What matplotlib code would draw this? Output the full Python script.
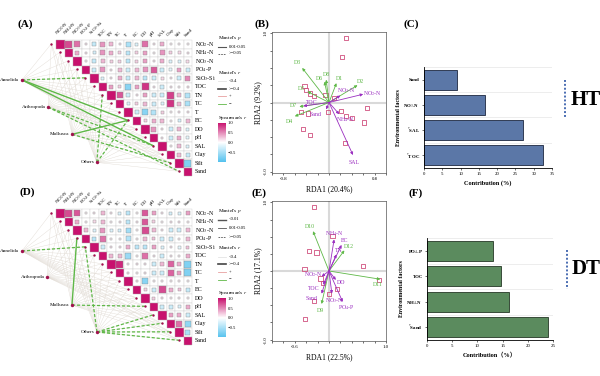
import numpy as np
import matplotlib
matplotlib.use('Agg')
import matplotlib.pyplot as plt
from matplotlib.colors import LinearSegmentedColormap, Normalize
from matplotlib.patches import Rectangle
from matplotlib.cm import ScalarMappable

plt.rcParams['font.family'] = ['Liberation Serif', 'DejaVu Serif']
plt.rcParams['mathtext.fontset'] = 'stix'

W, H = 600, 376

#### data ####
env_vars = ['NO$_2$-N', 'NH$_4$-N', 'NO$_3$-N', 'PO$_4$-P', 'SiO$_3$-Si', 'TOC', 'TN', 'TC',
            'T', 'EC', 'DO', 'pH', 'SAL', 'Clay', 'Silt', 'Sand']
taxa = ['Annelida', 'Arthropoda', 'Mollusca', 'Others']

# Spearman's r, upper triangle, row i holds columns i+1..15
ht_corr = [
    [0.75, 0.6, 0.1, -0.35, 0.45, 0.3, 0.1, -0.5, -0.2, 0.6, 0.1, 0.35, 0.05, 0.05, 0.05],
    [0.35, 0.1, -0.25, 0.45, 0.35, 0.2, -0.4, 0.2, 0.4, 0.05, 0.45, 0.2, 0.15, 0.1],
    [0.05, -0.35, 0.3, 0.2, 0.2, -0.4, 0.2, 0.4, 0.1, 0.35, -0.2, -0.2, 0.15],
    [-0.3, 0.45, 0.1, 0.3, -0.3, 0.3, 0.45, 0.7, -0.3, -0.15, 0.4, -0.3],
    [-0.2, 0.1, 0.35, -0.35, 0.3, -0.4, -0.3, 0.15, 0.1, -0.3, 0.5],
    [0.4, 0.2, -0.7, 0.4, 0.85, 0.1, -0.3, 0.1, 0.05, 0.1],
    [0.7, -0.3, 0.1, 0.4, -0.3, -0.3, 0.8, 0.3, -0.45],
    [-0.2, 0.2, 0.3, -0.3, -0.2, 0.85, 0.3, -0.5],
    [-0.3, -0.7, -0.45, 0.2, 0.05, 0.1, 0.1],
    [0.2, 0.35, 0.3, 0.05, -0.25, 0.3],
    [0.45, 0.1, -0.3, 0.3, -0.2],
    [0.1, -0.3, 0.35, -0.15],
    [0.05, 0.3, -0.2],
    [0.3, -0.35],
    [-0.75],
]
dt_corr = [
    [0.75, 0.7, 0.05, 0.1, 0.3, 0.1, -0.2, -0.4, 0.05, 0.7, 0.4, 0.1, -0.25, -0.2, 0.4],
    [0.35, 0.05, 0.15, 0.3, 0.05, 0.1, -0.4, 0.1, 0.7, 0.2, 0.05, 0.1, 0.1, 0.05],
    [0.3, -0.2, 0.45, -0.2, -0.25, -0.55, 0.05, 0.75, 0.3, 0.1, -0.3, -0.3, 0.3],
    [-0.4, 0.6, 0.05, 0.05, -0.45, 0.05, 0.3, 0.25, -0.3, -0.3, 0.05, 0.3],
    [-0.3, 0.1, 0.1, 0.35, -0.4, -0.4, 0.4, -0.2, 0.1, -0.15, 0.25],
    [0.3, 0.3, -0.6, 0.05, 0.6, 0.1, -0.3, 0.1, 0.05, 0.35],
    [0.9, 0.1, 0.1, 0.1, -0.3, 0.3, 0.65, 0.35, -0.75],
    [0.1, 0.05, 0.1, -0.3, -0.3, 0.65, 0.4, -0.75],
    [0.1, -0.7, 0.05, 0.05, 0.05, 0.05, 0.05],
    [0.2, -0.3, 0.75, 0.35, 0.25, -0.35],
    [0.2, 0.1, 0.05, 0.05, 0.05],
    [-0.3, -0.3, -0.2, 0.35],
    [0.4, 0.35, -0.3],
    [0.6, -0.65],
    [-0.5],
]

# Mantel links drawn in green: (taxon index, env index, p<0.05 -> solid)
ht_links = [(0, 4, False), (0, 9, True), (0, 12, True), (1, 12, False), (1, 15, False),
            (2, 9, True), (2, 14, False), (3, 9, False), (3, 6, False)]
dt_links = [(0, 4, False), (2, 3, True), (2, 11, False), (3, 4, False), (3, 12, False),
            (3, 13, False), (3, 14, False), (3, 15, False)]

# RDA (B) HT
ht_site_x = [0.30, 0.23, -0.43, -0.41, -0.33, -0.26, -0.06, 0.09, -0.49, -0.37, -0.02, 0.21,
             0.30, -0.46, -0.33, 0.28, 0.41, 0.66, 0.62]
ht_site_y = [0.93, 0.66, 0.24, 0.18, 0.13, 0.09, 0.11, 0.07, -0.14, -0.16, -0.14, -0.12,
             -0.19, -0.38, -0.47, -0.59, -0.23, -0.08, -0.29]
ht_sp_names = ['D3', 'D6', 'D8', 'D1', 'D2', 'D5', 'D7', 'D4']
ht_sp_x = [-0.47, -0.08, -0.05, 0.13, 0.50, -0.38, -0.52, -0.60]
ht_sp_y = [0.50, 0.30, 0.33, 0.28, 0.25, 0.16, -0.06, -0.20]
ht_env_names = ['NO$_3$-N', 'NO$_2$-N', 'TOC', 'Sand', 'NH$_4$-N', 'SAL']
ht_env_x = [0.20, 0.60, -0.45, -0.05, 0.18, 0.42]
ht_env_y = [0.10, 0.12, -0.05, -0.10, -0.17, -0.76]

# RDA (E) DT
dt_site_x = [-0.27, 0.06, -0.35, -0.22, -0.43, 0.59, -0.15, -0.11, 0.14, 0.0, -0.27, -0.42, 0.88]
dt_site_y = [0.93, 0.51, 0.29, 0.27, 0.03, 0.07, -0.11, -0.17, -0.26, -0.34, -0.44, -0.70, -0.13]
dt_sp_names = ['D10', 'D12', 'D9', 'D11']
dt_sp_x = [-0.28, 0.27, -0.13, 0.90]
dt_sp_y = [0.58, 0.30, -0.48, -0.12]
dt_env_names = ['NH$_4$-N', 'EC', 'TN', 'NO$_2$-N', 'TOC', 'Sand', 'DO', 'NO$_3$-N', 'PO$_4$-P']
dt_env_x = [0.09, 0.22, 0.13, -0.13, -0.10, -0.13, 0.12, 0.05, 0.24]
dt_env_y = [0.46, 0.38, 0.24, -0.08, -0.20, -0.33, -0.13, -0.33, -0.45]

# contribution bars (bottom to top)
ht_factors = ['$^{*}$TOC', '$^{*}$SAL', 'NO$_3$-N', 'Sand']
ht_contrib = [32.5, 27.0, 16.6, 9.0]
dt_factors = ['$^{*}$Sand', 'NH$_4$-N', 'TOC', 'PO$_4$-P']
dt_contrib = [24.0, 16.3, 14.7, 13.0]

#### layout / styles ####
# label offsets from arrow tips, in pixels
ht_sp_off = [(-5, 5.5), (-5.5, 3.5), (0.7, 5.6), (2.7, 5), (3.4, 3.5), (-5.4, 2.8), (-6, 0.7), (-5.4, -5.6)]
ht_env_off = [(6, 4.9), (9, 1), (8, 3.5), (-11, -5), (6, -5.6), (0.7, -7.7)]
dt_sp_off = [(-2.9, 4.9), (4.3, 3.5), (-1.4, -6.3), (-2.1, -5.6)]
dt_env_off = [(0.5, 5.5), (2.9, 4.2), (2.2, 4.2), (-8.6, 2.1), (-10, -3.5), (-10, -5),
              (5.7, -2.8), (2.2, -7), (3.6, -5.6)]

cmap = LinearSegmentedColormap.from_list('sp', ['#55c2ee', '#ffffff', '#c8116e'])
norm = Normalize(-1, 1)
node_col = '#a0124e'
green = '#5fb848'
purple = '#9b2fc0'

fig = plt.figure(figsize=(W / 100, H / 100), dpi=100)


def px_axes(x0, y0, x1, y1):
    return fig.add_axes([x0 / W, 1 - y1 / H, (x1 - x0) / W, (y1 - y0) / H])


# overlay for panel letters, legends etc. (pixel coords)
ov = px_axes(0, 0, W, H)
ov.set_xlim(0, W)
ov.set_ylim(H, 0)
ov.axis('off')
ov.set_zorder(5)


def draw_corr(top, corr, nodes_x, nodes_y, links):
    cell = 8.5
    left = 56
    ax = px_axes(0, top - 12, 215, top + 145)
    ax.set_xlim(-left / cell, (215 - left) / cell)
    ax.set_ylim(145 / cell, -12 / cell)
    ax.axis('off')
    n = len(env_vars)
    dot_x = [i - 0.55 for i in range(n)]
    dot_y = [i + 0.45 for i in range(n)]
    # background links
    for t in range(len(taxa)):
        for i in range(n):
            ax.plot([nodes_x[t], dot_x[i]], [nodes_y[t], dot_y[i]], color='#e2dcd5', lw=0.3, zorder=1)
    for t, i, sig in links:
        ax.plot([nodes_x[t], dot_x[i]], [nodes_y[t], dot_y[i]], color=green,
                lw=1.0 if sig else 0.9, ls='-' if sig else (0, (2.5, 1.5)), zorder=2)
    ax.scatter(dot_x, dot_y, s=3, color=node_col, zorder=3, lw=0)
    ax.scatter(nodes_x, nodes_y, s=6, color=node_col, zorder=3, lw=0)
    for t, name in enumerate(taxa):
        ax.text(nodes_x[t] - 0.3, nodes_y[t], name, fontsize=3.7, ha='right', va='center')
    for i in range(n):
        ax.add_patch(Rectangle((i, i), 1, 1, facecolor=cmap(norm(1.0)), edgecolor='#b0b0b0', lw=0.3, zorder=3))
        if i < n - 1:
            for k, r in enumerate(corr[i]):
                j = i + 1 + k
                ax.add_patch(Rectangle((j, i), 1, 1, facecolor='white', edgecolor='#cfcfcf', lw=0.3, zorder=3))
                s = 0.18 + 0.78 * abs(r)
                ax.add_patch(Rectangle((j + 0.5 - s / 2, i + 0.5 - s / 2), s, s, facecolor=cmap(norm(r)),
                                       edgecolor='#8a8a8a', lw=0.3, zorder=4))
        ax.text(n + 0.35, i + 0.5, env_vars[i], fontsize=4.3, ha='left', va='center')
        ax.text(i + 0.3, -0.3, env_vars[i], fontsize=3.6, rotation=45, ha='left', va='bottom',
                rotation_mode='anchor')
    return ax


draw_corr(40, ht_corr, [-4.0, -0.94, 1.9, 4.8], [4.7, 7.9, 11.1, 14.4], ht_links)
draw_corr(209, dt_corr, [-4.0, -1.06, 1.88, 4.82], [4.94, 8.0, 11.3, 14.47], dt_links)


def mantel_legend(y0, p_labels, p_styles, p_step, gap):
    lx = 218
    ov.text(lx, y0, "Mantel's $p$", fontsize=3.8, va='center')
    yy = y0 + 8.5
    for lab, (lw, ls) in zip(p_labels, p_styles):
        ov.plot([lx, lx + 8], [yy, yy], color='#555555', lw=lw, ls=ls)
        ov.text(lx + 11, yy, lab, fontsize=3.3, va='center')
        yy += p_step
    yy += gap
    ov.text(lx, yy, "Mantel's $r$", fontsize=3.8, va='center')
    yy += 9
    for lab, c, lw in [('<0.4', '#e4e4e4', 0.6), ('>=0.4', '#444444', 1.2), ('+', '#e8a0a0', 0.6),
                       ('\u2212', green, 0.6)]:
        ov.plot([lx, lx + 8], [yy, yy], color=c, lw=lw)
        ov.text(lx + 11, yy, lab, fontsize=3.3, va='center')
        yy += 7.7
    yy += 6
    ov.text(lx, yy, "Spearman's $r$", fontsize=3.8, va='center')
    cax = px_axes(lx, yy + 5, lx + 8, yy + 44)
    cb = fig.colorbar(ScalarMappable(norm=norm, cmap=cmap), cax=cax, ticks=[1.0, 0.5, 0.0, -0.5])
    cb.outline.set_visible(False)
    cb.ax.tick_params(labelsize=3.3, length=0, pad=1.5)
    cb.ax.set_yticklabels(['1.0', '0.5', '0.0', '\u22120.5'])


mantel_legend(38, ['0.01-0.05', '>=0.05'], [(0.8, '-'), (0.6, (0, (2, 1.2)))], 7, 11.5)
mantel_legend(211, ['<0.01', '0.01-0.05', '>=0.05'], [(1.0, '-'), (0.6, '-'), (0.6, (0, (2, 1.2)))], 8.5, 2.5)


def draw_rda(box, xlim, sx, sy, spn, spx, spy, spoff, envn, envx, envy, envoff, xlab, ylab, xt):
    ax = px_axes(*box)
    ax.set_xlim(*xlim)
    ax.set_ylim(-1.02, 1.02)
    ax.axvline(0, color='#d9d9d9', lw=1.5, zorder=0)
    ax.axhline(0, color='#d9d9d9', lw=1.5, zorder=0)
    ax.scatter(sx, sy, marker='s', s=9, facecolor='none', edgecolor='#d0507e', lw=0.6, zorder=2)
    for names, xs, ys, offs, c in [(spn, spx, spy, spoff, green), (envn, envx, envy, envoff, purple)]:
        for nm, x, y, (dx, dy) in zip(names, xs, ys, offs):
            ax.annotate('', xy=(x, y), xytext=(0, 0),
                        arrowprops=dict(arrowstyle='-|>', color=c, lw=0.6, mutation_scale=4,
                                        shrinkA=0, shrinkB=0), zorder=3)
            ax.annotate(nm, xy=(x, y), xytext=(dx * 0.72, dy * 0.72), textcoords='offset points',
                        color=c, fontsize=4.2, ha='center', va='center', zorder=4)
    ax.set_xticks(np.arange(-1.0, 1.01, 0.2))
    ax.set_yticks(np.arange(-1.0, 1.01, 0.25))
    ax.set_xticklabels([f'{v:.1f}' if round(v, 1) in xt else '' for v in np.arange(-1.0, 1.01, 0.2)])
    ax.set_yticklabels([f'{v:.1f}' if abs(abs(v) - 1) < 1e-6 else '' for v in np.arange(-1.0, 1.01, 0.25)],
                       rotation=90, va='center')
    ax.tick_params(labelsize=3.5, length=1.5, width=0.4, pad=1.5)
    for s in ax.spines.values():
        s.set_linewidth(0.5)
        s.set_color('#555555')
    ax.set_xlabel(xlab, fontsize=5.5, labelpad=3)
    ax.set_ylabel(ylab, fontsize=5.5, labelpad=1)
    return ax


draw_rda((272, 32, 386, 173), (-0.84, 0.88), ht_site_x, ht_site_y, ht_sp_names, ht_sp_x, ht_sp_y, ht_sp_off,
         ht_env_names, ht_env_x, ht_env_y, ht_env_off, 'RDA1 (20.4%)', 'RDA2 (9.2%)', [-0.8, 0.8])
draw_rda((272, 201, 386, 341), (-0.62, 1.0), dt_site_x, dt_site_y, dt_sp_names, dt_sp_x, dt_sp_y, dt_sp_off,
         dt_env_names, dt_env_x, dt_env_y, dt_env_off, 'RDA1 (22.5%)', 'RDA2 (17.1%)', [-0.6, 1.0])


def draw_bars(box, names, vals, color, edge, xmax, xlab):
    ax = px_axes(*box)
    yy = np.arange(len(names))
    ax.barh(yy, vals, height=0.8, color=color, edgecolor=edge, lw=0.6, zorder=2)
    for b in np.arange(-0.5, len(names), 1.0):
        ax.axhline(b, color='#e6e6e6', lw=0.5, zorder=0)
    ax.set_ylim(-0.5, len(names) - 0.5)
    ax.set_xlim(0, xmax)
    ax.set_xticks(np.arange(0, xmax + 1, 5))
    ax.set_yticks(yy)
    ax.set_yticklabels(names, fontweight='bold')
    ax.tick_params(labelsize=3.5, length=1.5, width=0.4, pad=1.5)
    ax.spines['top'].set_visible(False)
    ax.spines['right'].set_visible(False)
    ax.spines['left'].set_linewidth(0.6)
    ax.spines['bottom'].set_linewidth(0.6)
    ax.set_xlabel(xlab, fontsize=4.5, fontweight='bold', labelpad=3,
                  family=['Liberation Serif', 'Noto Sans CJK SC'])
    ax.set_ylabel('Environmental factors', fontsize=4.2, fontweight='bold', labelpad=2)
    return ax


draw_bars((424, 67, 552, 168), ht_factors, ht_contrib, '#5b77a7', '#1d2840', 35, 'Contribution (%)')
draw_bars((427, 238, 553, 340), dt_factors, dt_contrib, '#5b8b5e', '#263826', 25, 'Contribution\uff08%\uff09')

# group tags
ov.plot([565, 565], [80, 118], color='#4a6db2', lw=1.4, ls=(0, (1, 1)))
ov.text(586, 100, 'HT', fontsize=15, fontweight='bold', ha='center', va='center')
ov.plot([567, 567], [250, 289], color='#4a6db2', lw=1.4, ls=(0, (1, 1)))
ov.text(586, 269, 'DT', fontsize=15, fontweight='bold', ha='center', va='center')

for lab, x, y in [('(A)', 25, 24), ('(B)', 262, 24), ('(C)', 411, 24),
                  ('(D)', 27, 192), ('(E)', 259, 193), ('(F)', 416, 193)]:
    ov.text(x, y, lab, fontsize=8, fontweight='bold', ha='center', va='center')

fig.savefig('out.png', dpi=100)
